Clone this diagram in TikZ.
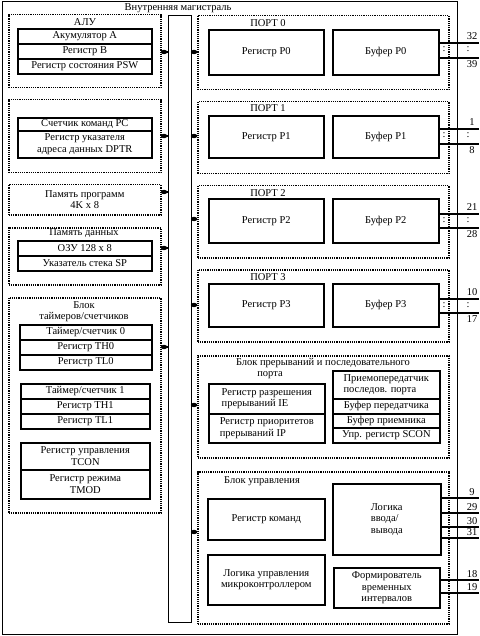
\documentclass[tikz,border=0pt]{standalone}
\usepackage{fontspec}
\setmainfont{Liberation Serif}
\newcommand\fs{\fontsize{10.5}{11.5}\selectfont}
\newcommand\bx[7]{\node[#2, anchor=north west, minimum width={#5-#3}, minimum height={#6-#4}] (#1) at (#3,#4) {#7};}
\tikzset{
  reg/.style={draw, line width=1.6pt, inner sep=0pt, align=center, font=\fs},
  regl/.style={draw, line width=1.6pt, inner sep=0pt, align=left, font=\fs},
  dbox/.style={draw, line width=1.5pt, dash pattern=on 1.2pt off 1pt, inner sep=0pt, align=center, font=\fs},
  framest/.style={draw, line width=1.4pt, inner sep=0pt},
  busst/.style={draw, line width=1.2pt, inner sep=0pt},
  lbl/.style={inner sep=0pt, align=center, font=\fs},
  pin/.style={line width=1.3pt},
  conn/.style={line width=1.2pt},
}
\begin{document}
\begin{tikzpicture}[x=1pt,y=-1pt]
\useasboundingbox (0,0) rectangle (479,636);
\fill[white] (0,0) rectangle (479,636);
\bx{frame}{framest}{2}{1}{457}{634}{}
\node[lbl] (title) at (178,8) {Внутренняя магистраль};
\bx{bus}{busst}{168}{15}{191}{622}{}
% left column
\bx{alu}{dbox}{8}{14}{160}{87}{}
\node[lbl] (aluT) at (85,22) {АЛУ};
\bx{accA}{reg}{17}{28}{151}{43}{Акумулятор A}
\bx{regB}{reg}{17}{43}{151}{58}{Регистр B}
\bx{psw}{reg}{17}{58}{151}{73}{Регистр состояния PSW}
\bx{pcb}{dbox}{8}{99}{160}{172}{}
\bx{pc}{reg}{17}{117}{151}{130}{Счетчик команд PC}
\bx{dptr}{reg}{17}{130}{151}{157}{Регистр указателя\\адреса данных DPTR}
\bx{prog}{dbox}{8}{184}{160}{214}{Память программ\\4K x 8}
\bx{dat}{dbox}{8}{227}{160}{284}{}
\node[lbl] (datT) at (84,233) {Память данных};
\bx{ram}{reg}{17}{240}{151}{255}{ОЗУ 128 x 8}
\bx{sp}{reg}{17}{255}{151}{270}{Указатель стека SP}
\bx{tim}{dbox}{8}{297}{160}{512}{}
\node[lbl] (timT) at (84,311.5) {Блок\\таймеров/счетчиков};
\bx{t0}{reg}{19}{324}{151}{339}{Таймер/счетчик 0}
\bx{th0}{reg}{19}{339}{151}{354}{Регистр TH0}
\bx{tl0}{reg}{19}{354}{151}{369}{Регистр TL0}
\bx{t1}{reg}{20}{383}{149}{398}{Таймер/счетчик 1}
\bx{th1}{reg}{20}{398}{149}{413}{Регистр TH1}
\bx{tl1}{reg}{20}{413}{149}{428}{Регистр TL1}
\bx{tcon}{reg}{20}{442}{149}{469}{Регистр управления\\TCON}
\bx{tmod}{reg}{20}{469}{149}{498}{Регистр режима\\TMOD}
% left connections
\foreach \n/\dy in {alu/52, pcb/136, prog/192, dat/248, tim/347}{
  \coordinate (dl\n) at (164,\dy);
  \draw[conn] (\n.east |- dl\n) -- (bus.west |- dl\n);
  \fill (dl\n) ellipse (3.2 and 2.2);
}
% ports
\foreach \i/\t/\b/\ly/\rt/\rb/\la/\lb/\na/\nb/\dy in
  {0/15/89/23/29/74/43/58/32/39/52,
   1/101/173/108/115/157/129/144/1/8/136,
   2/185/257/193/198/242/214/228/21/28/219,
   3/269/341/277/283/326/299/313/10/17/305}{
  \bx{port\i}{dbox}{197}{\t}{448}{\b}{}
  \node[lbl] (portT\i) at (268,\ly) {ПОРТ \i};
  \bx{reg\i}{reg}{208}{\rt}{323}{\rb}{Регистр P\i}
  \bx{buf\i}{reg}{332}{\rt}{438}{\rb}{Буфер P\i}
  \coordinate (pa\i) at (479,\la);
  \coordinate (pb\i) at (479,\lb);
  \draw[pin] (buf\i.east |- pa\i) -- (pa\i);
  \draw[pin] (buf\i.east |- pb\i) -- (pb\i);
  \node[lbl] (ca\i) at (444,{(\la+\lb)/2-1}) {:};
  \node[lbl] (cb\i) at (468,{(\la+\lb)/2-1}) {:};
  \node[lbl] (na\i) at (472,\la-7) {\na};
  \node[lbl] (nb\i) at (472,\lb+6) {\nb};
  \coordinate (dp\i) at (194,\dy);
  \draw[conn] (bus.east |- dp\i) -- (port\i.west |- dp\i);
  \fill (dp\i) ellipse (3.2 and 2.2);
}
% interrupts
\bx{intb}{dbox}{197}{355}{448}{457}{}
\node[lbl] (intT) at (323,363) {Блок прерываний и последовательного};
\node[lbl] (intT2) at (270,375) {порта};
\bx{ie}{regl}{208}{383}{324}{413}{Регистр разрешения\\прерываний IE}
\bx{ip}{regl}{208}{413}{324}{442}{Регистр приоритетов\\прерываний IP}
\bx{uart}{regl}{332}{370}{439}{398}{Приемопередатчик\\последов. порта}
\bx{tbuf}{reg}{332}{398}{439}{413}{Буфер передатчика}
\bx{rbuf}{reg}{332}{413}{439}{427}{Буфер приемника}
\bx{scon}{reg}{332}{427}{439}{442}{Упр. регистр SCON}
\coordinate (dint) at (194,405);
\draw[conn] (bus.east |- dint) -- (intb.west |- dint);
\fill (dint) ellipse (3.2 and 2.2);
% control
\bx{ctl}{dbox}{197}{471}{448}{623}{}
\node[lbl] (ctlT) at (262,481) {Блок управления};
\bx{ir}{reg}{207}{498}{324}{539}{Регистр команд}
\bx{mcu}{reg}{207}{554}{324}{604}{Логика управления\\микроконтроллером}
\bx{io}{regl}{332}{483}{440}{554}{Логика\\ввода/\\вывода}
\bx{tg}{reg}{333}{567}{439}{607}{Формирователь\\временных\\интервалов}
\foreach \k/\yy/\nn in {a/498/9, b/513/29, c/527/30, d/538/31}{
  \coordinate (io\k) at (479,\yy);
  \draw[pin] (io.east |- io\k) -- (io\k);
  \node[lbl] (ion\k) at (472,\yy-6) {\nn};
}
\foreach \k/\yy/\nn in {a/580/18, b/593/19}{
  \coordinate (tg\k) at (479,\yy);
  \draw[pin] (tg.east |- tg\k) -- (tg\k);
  \node[lbl] (tgn\k) at (472,\yy-6) {\nn};
}
\coordinate (dctl) at (194,532);
\draw[conn] (bus.east |- dctl) -- (ctl.west |- dctl);
\fill (dctl) ellipse (3.2 and 2.2);
\end{tikzpicture}
\end{document}
